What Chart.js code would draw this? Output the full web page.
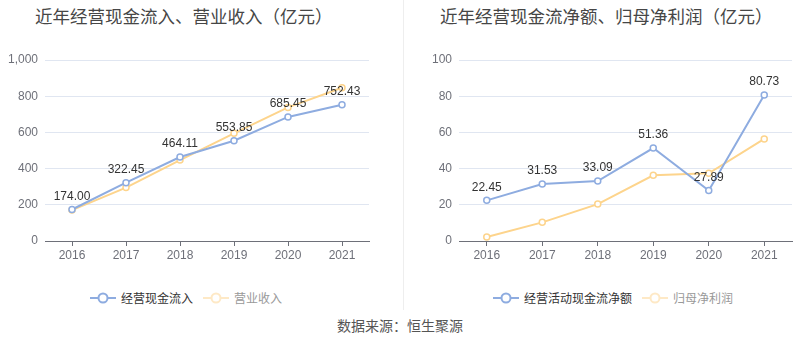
<!DOCTYPE html>
<html>
<head>
<meta charset="utf-8">
<script src="https://cdn.jsdelivr.net/npm/chart.js@4/dist/chart.umd.min.js"></script>
<style>
  body { margin: 0; background: #fff; font-family: "Liberation Sans", "Noto Sans CJK SC", sans-serif; }
  #wrap { position: relative; width: 800px; height: 358px; overflow: hidden; }
  .title { position: absolute; top: 3px; font-size: 17.5px; color: #464646; font-family: "Noto Sans CJK SC", sans-serif; white-space: nowrap; }
  .box { position: absolute; top: 0; width: 400px; height: 265px; }
  .divider { position: absolute; left: 403px; top: 0; width: 1px; height: 310px; background: #eeeeee; }
  .legend { position: absolute; top: 289px; font-size: 12px; font-family: "Noto Sans CJK SC", sans-serif; white-space: nowrap; display: flex; align-items: center; }
  .legend span.item { display: inline-flex; align-items: center; margin-right: 10px; }
  .legend canvas { margin-right: 5px; }
  #source { position: absolute; top: 315px; width: 800px; text-align: center; font-size: 14px; color: #555; font-family: "Noto Sans CJK SC", sans-serif; }
</style>
</head>
<body>
<div id="wrap">
  <div class="title" style="left:35px">近年经营现金流入、营业收入（亿元）</div>
  <div class="title" style="left:440px">近年经营现金流净额、归母净利润（亿元）</div>
  <div class="box" style="left:0"><canvas id="leftChart" width="400" height="265"></canvas></div>
  <div class="box" style="left:400px"><canvas id="rightChart" width="400" height="265"></canvas></div>
  <div class="divider"></div>
  <div class="legend" id="leftLegend" style="left:90px"></div>
  <div class="legend" id="rightLegend" style="left:493px"></div>
  <div id="source">数据来源：恒生聚源</div>
</div>
<script>
const years = ['2016', '2017', '2018', '2019', '2020', '2021'];

// 左图
const cashInflow = [174.00, 322.45, 464.11, 553.85, 685.45, 752.43];
const revenue = [171, 295, 447, 595, 738, 847];

// 右图
const netCashFlow = [22.45, 31.53, 33.09, 51.36, 27.89, 80.73];
const netProfit = [2.2, 10.3, 20.4, 36.3, 37.4, 56.4];

const blue = 'rgb(142,172,224)';
const orange = 'rgb(253,212,140)';

// 只给第一条线画数值标签
const valueLabels = {
    id: 'valueLabels',
    afterDatasetsDraw(chart) {
        const ctx = chart.ctx;
        const meta = chart.getDatasetMeta(0);
        const data = chart.data.datasets[0].data;
        ctx.save();
        ctx.font = '12px "Liberation Sans", Arial, sans-serif';
        ctx.fillStyle = '#333';
        ctx.textAlign = 'center';
        ctx.textBaseline = 'bottom';
        meta.data.forEach((pt, i) => {
            ctx.fillText(data[i].toFixed(2), pt.x, pt.y - 7);
        });
        ctx.restore();
    }
};

function lineSet(label, data, color) {
    return {
        label: label,
        data: data,
        borderColor: color,
        backgroundColor: '#fff',
        borderWidth: 2,
        pointRadius: 3,
        pointBorderWidth: 1.5,
        pointBackgroundColor: '#fff',
        pointBorderColor: color,
        fill: false,
        tension: 0
    };
}

function createChart(id, datasets, max, step, yWidth, padRight, fmt) {
    const ctx = document.getElementById(id).getContext('2d');
    return new Chart(ctx, {
        type: 'line',
        data: { labels: years, datasets: datasets },
        plugins: [valueLabels],
        options: {
            responsive: false,
            animation: false,
            layout: { padding: { top: 60, right: padRight, bottom: 0, left: 0 } },
            plugins: { legend: { display: false }, title: { display: false }, tooltip: { enabled: false } },
            scales: {
                x: {
                    offset: true,
                    afterFit: s => { s.height = 24; },
                    grid: { drawOnChartArea: false, drawTicks: true, tickLength: 5, color: '#6e7079' },
                    border: { color: '#6e7079', width: 1 },
                    ticks: { color: '#6e7079', padding: 2, font: { size: 12, family: '"Liberation Sans", Arial, sans-serif' } }
                },
                y: {
                    min: 0,
                    max: max,
                    afterFit: s => { s.width = yWidth; },
                    grid: { color: '#e0e6f1', drawTicks: false },
                    border: { display: false },
                    ticks: {
                        stepSize: step,
                        padding: 7,
                        color: '#6e7079',
                        font: { size: 12, family: '"Liberation Sans", Arial, sans-serif' },
                        callback: fmt
                    }
                }
            }
        }
    });
}

function legendIcon(color) {
    const c = document.createElement('canvas');
    c.width = 26; c.height = 14;
    const g = c.getContext('2d');
    g.strokeStyle = color;
    g.lineWidth = 2;
    g.beginPath(); g.moveTo(0, 7); g.lineTo(26, 7); g.stroke();
    g.fillStyle = '#fff';
    g.beginPath(); g.arc(13, 7, 4.5, 0, Math.PI * 2); g.fill(); g.stroke();
    return c;
}

function buildLegend(elId, items) {
    const el = document.getElementById(elId);
    items.forEach(it => {
        const span = document.createElement('span');
        span.className = 'item';
        span.appendChild(legendIcon(it.color));
        const t = document.createElement('span');
        t.textContent = it.text;
        t.style.color = it.textColor;
        span.appendChild(t);
        el.appendChild(span);
    });
}

createChart('leftChart',
    [lineSet('经营现金流入', cashInflow, blue), lineSet('营业收入', revenue, orange)],
    1000, 200, 45, 31, v => v.toLocaleString('en-US'));

createChart('rightChart',
    [lineSet('经营活动现金流净额', netCashFlow, blue), lineSet('归母净利润', netProfit, orange)],
    100, 20, 59, 8, v => v);

buildLegend('leftLegend', [
    { text: '经营现金流入', color: blue, textColor: '#333' },
    { text: '营业收入', color: 'rgb(254,233,198)', textColor: '#999' }
]);
buildLegend('rightLegend', [
    { text: '经营活动现金流净额', color: blue, textColor: '#333' },
    { text: '归母净利润', color: 'rgb(254,233,198)', textColor: '#999' }
]);
</script>
</body>
</html>
